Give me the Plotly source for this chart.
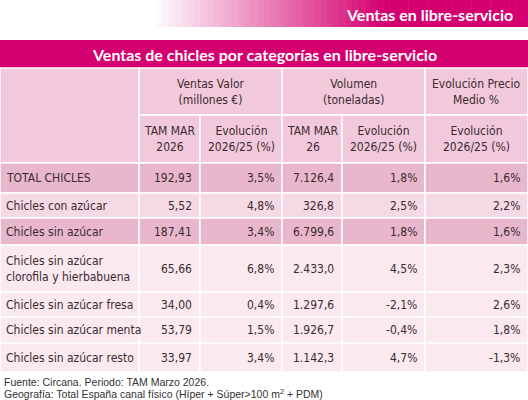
import plotly.graph_objects as go

# data
categories = ["TOTAL CHICLES", "Chicles con azúcar", "Chicles sin azúcar",
              "Chicles sin azúcar<br>clorofila y hierbabuena", "Chicles sin azúcar fresa",
              "Chicles sin azúcar menta", "Chicles sin azúcar resto"]
ventas_valor = ["192,93", "5,52", "187,41", "65,66", "34,00", "53,79", "33,97"]
evol_valor = ["3,5%", "4,8%", "3,4%", "6,8%", "0,4%", "1,5%", "3,4%"]
volumen = ["7.126,4", "326,8", "6.799,6", "2.433,0", "1.297,6", "1.926,7", "1.142,3"]
evol_volumen = ["1,8%", "2,5%", "1,8%", "4,5%", "-2,1%", "-0,4%", "4,7%"]
evol_precio = ["1,6%", "2,2%", "1,6%", "2,3%", "2,6%", "1,8%", "-1,3%"]
group_headers = ["Ventas Valor<br>(millones €)", "Volumen<br>(toneladas)", "Evolución Precio<br>Medio %"]
sub_headers = ["TAM MAR<br>2026", "Evolución<br>2026/25 (%)", "TAM MAR<br>26", "Evolución<br>2026/25 (%)", "Evolución<br>2026/25 (%)"]

# layout in pixels
cols = [0, 139, 200, 282, 342, 425, 528]
row_edges = [163, 193, 218, 245, 292, 317, 343, 372]
row_colors = ["#e9b7cb", "#f5d9e5", "#e9b7cb", "#fbe9f0", "#fbe9f0", "#fbe9f0", "#fbe9f0"]
MAG = "#d5006f"
FONT = "DejaVu Sans Condensed, Liberation Sans Narrow, Liberation Sans, sans-serif"
TXT = "#3a2a30"

shapes, ann = [], []

def rect(x0, y0, x1, y1, color, line=None):
    shapes.append(dict(type="rect", x0=x0, x1=x1, y0=y0, y1=y1, fillcolor=color,
                       line=dict(width=1.5, color="white") if line else dict(width=0), layer="below"))

def text(x, y, s, size=12, color=TXT, anchor="center", bold=False, family=FONT):
    if bold:
        s = "<b>" + s + "</b>"
    ann.append(dict(x=x, y=y, text=s, showarrow=False, xanchor=anchor, yanchor="middle",
                    font=dict(size=size, color=color, family=family), align=anchor if anchor != "center" else "center"))

# top banner gradient
n = 60
for i in range(n):
    t = min(1, i / (n - 1) * 1.6)
    r = int(255 + (213 - 255) * t)
    g = int(255 + (0 - 255) * t)
    b = int(255 + (111 - 255) * t)
    x0 = 150 + i * (378 / n)
    rect(x0, 0, x0 + 378 / n + 0.5, 27, f"rgb({r},{g},{b})")
text(515, 14, "Ventas en libre-servicio", 16, "white", "right", True, "Lato, sans-serif")

# title bar
rect(0, 40, 528, 68, MAG)
text(264, 54, "Ventas de chicles por categorías en libre-servicio", 16, "white", "center", True, "Lato, sans-serif")

# header
rect(0, 68, cols[1], 163, "#f2c9da", True)
spans = [(1, 3), (3, 5), (5, 6)]
for (a, b), h in zip(spans, group_headers):
    rect(cols[a], 68, cols[b], 115, "#f2c9da", True)
    text((cols[a] + cols[b]) / 2, 92, h)
for j, h in enumerate(sub_headers):
    rect(cols[j + 1], 115, cols[j + 2], 163, "#f2c9da", True)
    text((cols[j + 1] + cols[j + 2]) / 2, 139, h)

# body
columns = [ventas_valor, evol_valor, volumen, evol_volumen, evol_precio]
for i, cat in enumerate(categories):
    y0, y1 = row_edges[i], row_edges[i + 1]
    ym = (y0 + y1) / 2
    for j in range(6):
        rect(cols[j], y0, cols[j + 1], y1, row_colors[i], True)
    text(4, ym, cat, anchor="left")
    for j, col in enumerate(columns):
        text(cols[j + 2] - 6, ym, col[i], anchor="right")

text(2, 382, "Fuente: Circana. Periodo: TAM Marzo 2026.", 10.5, "#333", "left", family="Liberation Sans, Arial")
text(2, 393, "Geografía: Total España canal físico (Híper + Súper>100 m<sup>2</sup> + PDM)", 10.5, "#333", "left",
     family="Liberation Sans, Arial")

fig = go.Figure()
fig.update_layout(width=528, height=400, margin=dict(l=0, r=0, t=0, b=0),
                  plot_bgcolor="white", paper_bgcolor="white", shapes=shapes, annotations=ann,
                  xaxis=dict(range=[0, 528], visible=False, fixedrange=True),
                  yaxis=dict(range=[400, 0], visible=False, fixedrange=True))
fig.write_html("out.html", config={"displayModeBar": False},
               post_script="document.body.style.margin='0';document.body.style.overflow='hidden';")
